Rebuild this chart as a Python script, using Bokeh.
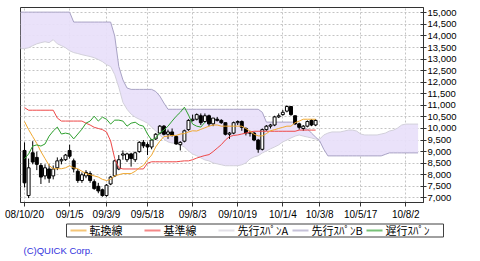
from bokeh.plotting import figure
from bokeh.layouts import column
from bokeh.core.properties import value
from bokeh.models import (Range1d, FixedTicker, Label, ColumnDataSource, NumeralTickFormatter)
from bokeh.embed import file_html
from bokeh.resources import INLINE

# ---- data (weekly bars, index 0 = 2008/10/20) ----
tick_weeks = [0, 11, 20, 30, 41, 52, 63, 72, 82, 93]
tick_labels = ["08/10/20", "09/1/5", "09/3/9", "09/5/18", "09/8/3",
               "09/10/19", "10/1/4", "10/3/8", "10/5/17", "10/8/2"]
y_ticks = [7000, 7500, 8000, 8500, 9000, 9500, 10000, 10500, 11000, 11500,
           12000, 12500, 13000, 13500, 14000, 14500, 15000]
series_names = ["転換線", "基準線", "先行ｽﾊﾟﾝA", "先行ｽﾊﾟﾝB", "遅行ｽﾊﾟﾝ"]

open_ = [9050, 7100, 8950, 8750, 8400, 7950, 8250, 7950, 8300, 8600,
         8650, 9050, 8600, 8150, 7750, 7950, 8050, 7700, 7500, 7350,
         7100, 7600, 7950, 8250, 8850, 8650, 8900, 8650, 9000, 9400,
         9300, 9200, 9550, 9800, 10100, 9750, 9850, 9650, 9300, 9450,
         9950, 10350, 10400, 10550, 10300, 10550, 10200, 10400, 10350, 10250,
         9750, 9800, 10250, 10300, 10000, 9800, 9800, 9500, 9100, 9950,
         10100, 10150, 10500, 10600, 10750, 10950, 10550, 10200, 10000, 10100,
         10350, 10150]
high = [9400, 8700, 9450, 9000, 8500, 8450, 8450, 8400, 8750, 8750,
        8900, 9300, 8700, 8250, 8100, 8200, 8150, 7800, 7650, 7400,
        7600, 7950, 8650, 8850, 9050, 8950, 8950, 9000, 9450, 9500,
        9400, 9550, 9800, 10150, 10150, 9950, 10000, 9700, 9450, 9950,
        10400, 10600, 10650, 10650, 10650, 10600, 10450, 10500, 10400, 10250,
        9850, 10300, 10350, 10350, 10050, 9900, 9850, 9550, 10000, 10150,
        10200, 10550, 10650, 10800, 11000, 10950, 10550, 10250, 10150, 10350,
        10400, 10400]
low = [7450, 6990, 8450, 8200, 7600, 7800, 7650, 7800, 8200, 8450,
       8600, 8700, 8100, 7650, 7650, 7850, 7650, 7350, 7200, 7050,
       7050, 7550, 7900, 8200, 8650, 8550, 8350, 8550, 8950, 9150,
       8850, 9100, 9500, 9750, 9700, 9550, 9650, 9300, 9050, 9400,
       9900, 10300, 10350, 10150, 10250, 10100, 10100, 10300, 10200, 9700,
       9550, 9750, 10150, 9900, 9700, 9650, 9450, 8950, 9050, 9900,
       10000, 10100, 10450, 10550, 10700, 10550, 10150, 9950, 9900, 10050,
       10100, 10100]
close = [7650, 8300, 8550, 8450, 7900, 8300, 7850, 8250, 8600, 8650,
         8850, 8800, 8250, 7750, 8000, 8100, 7750, 7400, 7300, 7100,
         7550, 7900, 8600, 8650, 8900, 8900, 8700, 8950, 9400, 9250,
         9200, 9500, 9750, 10100, 9750, 9850, 9700, 9330, 9400, 9900,
         10350, 10400, 10600, 10250, 10550, 10200, 10450, 10350, 10250, 9750,
         9800, 10250, 10300, 10050, 9800, 9800, 9500, 9100, 9950, 10100,
         10150, 10500, 10550, 10700, 10950, 10600, 10200, 10050, 10100, 10300,
         10150, 10350]

tenkan = [10300, 9950, 9650, 9350, 9000, 8700, 8400, 8260, 8260, 8260,
          8300, 8390, 8300, 8260, 8150, 8050, 8000, 7950, 7900, 7800,
          7750, 7800, 7950, 8000, 8050, 8050, 8050, 8150, 8300, 8400,
          8650, 8850, 9200, 9450, 9650, 9670, 9700, 9700, 9760, 9780,
          9850, 9900, 9890, 9960, 10030, 10100, 10150, 10150, 10100, 10100,
          10100, 10100, 10100, 10100, 10000, 9880, 9750, 9680, 9680, 9780,
          9900, 9950, 10000, 10050, 10100, 10100, 10250, 10320, 10400, 10400,
          10400, 10400]
kijun = [10900, 10790, 10790, 10790, 10790, 10790, 10790, 10790, 10450, 10320,
         10320, 10320, 10320, 10320, 10320, 10230, 10150, 10050, 10000, 9950,
         9850, 9460, 8700, 8300, 8250, 8250, 8250, 8250, 8250, 8250,
         8500, 8560, 8560, 8560, 8560, 8560, 8560, 8560, 8580, 8600,
         8600, 8650, 8720, 8780, 8830, 8870, 9000, 9150, 9300, 9500,
         9650, 9700, 9720, 9760, 9800, 9850, 9880, 9880, 9880, 9880,
         9880, 9880, 9880, 9880, 9880, 9880, 9880, 9930, 9930, 9930,
         9930, 9930]

# leading spans, index -1 .. 96
span_a = [13450, 13450, 13490, 13580, 13660, 13710, 13750, 13710, 13840, 13660,
          13580, 13490, 13360, 13280, 13240, 13190, 13150, 13110, 13060, 12980,
          12890, 12760, 12680, 12330, 11780, 11130, 10830, 10620, 10490, 10400,
          10320, 10230, 10060, 9890, 9720, 9540, 9420, 9370, 9370, 9290,
          9200, 9030, 8900, 8820, 8730, 8640, 8600, 8510, 8470, 8430,
          8390, 8390, 8390, 8390, 8430, 8510, 8680, 8770, 8820, 8940,
          9030, 9120, 9200, 9290, 9420, 9500, 9590, 9670, 9720, 9670,
          9630, 9590, 9540, 9540, 9720, 9800, 9850, 9850, 9850, 9890,
          9930, 9930, 9890, 9760, 9720, 9720, 9720, 9720, 9760, 9800,
          9890, 9930, 10020, 10150, 10190, 10190, 10190, 10190]
span_b = [15030, 15030, 15030, 15030, 15030, 15030, 15030, 15030, 15030, 15030,
          15030, 15030, 15030, 14600, 14600, 14600, 14600, 14600, 14600, 14600,
          14600, 14600, 14600, 14000, 12680, 12100, 11750, 11690, 11690, 11690,
          11690, 11690, 11690, 11600, 11400, 11100, 10830, 10830, 10830, 10830,
          10830, 10830, 10830, 10830, 10830, 10830, 10830, 10830, 10830, 10830,
          10830, 10830, 10830, 10830, 10830, 10830, 10830, 10830, 10830, 10700,
          10275, 10275, 10275, 10275, 10275, 10275, 10275, 10275, 10100, 9980,
          9980, 9800, 9630, 9460, 9100, 8815, 8815, 8815, 8815, 8815,
          8815, 8815, 8815, 8815, 8815, 8815, 8815, 8815, 8815, 8880,
          8944, 8944, 8944, 8944, 8944, 8944, 8944, 8944]

chikou = [8690, 8900, 9240, 9290, 9240, 9330, 9670, 9890, 10060, 9760,
          9800, 9760, 9550, 9760, 9970, 10230, 10320, 10530, 10320, 10490,
          10400, 10190, 10360, 10360, 10320, 10100, 10230, 10270, 10150, 10100,
          9760, 9500, 9590, 9800, 9930, 10100, 10320, 10530, 10700, 10920,
          10580, 10190, 10100, 10060, 10270]

# ---- styles ----
FONT = "Liberation Sans"
JP = "Noto Sans CJK JP"
C_TENKAN = "#f0a830"
C_KIJUN = "#ee4848"
C_SPAN_A = "#d2d0da"
C_SPAN_B = "#a8a2c4"
C_CHIKOU = "#2ea02e"
series_colors = [C_TENKAN, C_KIJUN, C_SPAN_A, C_SPAN_B, C_CHIKOU]

# ---- main chart ----
p = figure(width=480, height=222, output_backend="svg", toolbar_location=None,
           x_range=Range1d(-0.98, 97.32), y_range=Range1d(6800, 15230),
           y_axis_location="right",
           min_border_left=20, min_border_right=57,
           min_border_top=7, min_border_bottom=18)
p.frame_align = False
p.background_fill_color = "white"
p.border_fill_color = "white"
p.outline_line_color = "#333333"
p.outline_line_width = 1

p.xaxis.ticker = FixedTicker(ticks=tick_weeks)
p.xaxis.major_label_overrides = {w: l for w, l in zip(tick_weeks, tick_labels)}
p.xaxis.major_tick_in = 0
p.xaxis.major_tick_out = 4
p.xaxis.minor_tick_line_color = None
p.xaxis.axis_line_color = "#333333"
p.xaxis.major_tick_line_color = "#333333"
p.xaxis.major_label_standoff = 2
p.xaxis.major_label_text_font = FONT
p.xaxis.major_label_text_font_size = "10px"
p.xaxis.major_label_text_color = "#000000"

p.yaxis.ticker = FixedTicker(ticks=y_ticks)
p.yaxis.formatter = NumeralTickFormatter(format="0,0")
p.yaxis.major_tick_in = 3
p.yaxis.major_tick_out = 3
p.yaxis.minor_tick_line_color = None
p.yaxis.axis_line_color = "#333333"
p.yaxis.major_tick_line_color = "#333333"
p.yaxis.major_label_standoff = 1
p.yaxis.major_label_text_font = FONT
p.yaxis.major_label_text_font_size = "9.5px"
p.yaxis.major_label_text_color = "#000000"

for g in (p.xgrid, p.ygrid):
    g.grid_line_color = "#c4c4c4"
    g.grid_line_dash = "2 2"
    g.grid_line_width = 1
p.xgrid.ticker = FixedTicker(ticks=tick_weeks)
p.ygrid.ticker = FixedTicker(ticks=y_ticks)

# cloud
cx = list(range(-1, len(span_a) - 1))
cloud = ColumnDataSource(dict(x=cx, a=span_a, b=span_b))
p.varea(x="x", y1="a", y2="b", source=cloud, fill_color="#e8e0fa", fill_alpha=0.92)
p.line("x", "a", source=cloud, line_color=C_SPAN_A, line_width=1)
p.line("x", "b", source=cloud, line_color=C_SPAN_B, line_width=1)

# candles
n = len(close)
xs = list(range(n))
up = [c >= o for o, c in zip(open_, close)]
cs = ColumnDataSource(dict(x=xs, o=open_, h=high, l=low, c=close))
p.segment(x0="x", y0="h", x1="x", y1="l", source=cs, line_color="black", line_width=1)
ux = [x for x, u in zip(xs, up) if u]
dx = [x for x, u in zip(xs, up) if not u]
src_up = ColumnDataSource(dict(x=ux, t=[close[i] for i in ux], b=[open_[i] for i in ux]))
src_dn = ColumnDataSource(dict(x=dx, t=[open_[i] for i in dx], b=[close[i] for i in dx]))
p.vbar(x="x", top="t", bottom="b", width=0.72, source=src_up,
       fill_color="white", line_color="black", line_width=1)
p.vbar(x="x", top="t", bottom="b", width=0.72, source=src_dn,
       fill_color="black", line_color="black", line_width=1)

# indicator lines
p.line(xs, kijun, line_color=C_KIJUN, line_width=1)
p.line(xs, tenkan, line_color=C_TENKAN, line_width=1)
p.line(list(range(len(chikou))), chikou, line_color=C_CHIKOU, line_width=1)

# ---- legend strip: a small canvas whose data units are pixels ----
QH = 39
q = figure(width=480, height=QH, output_backend="svg", toolbar_location=None,
           x_range=Range1d(0, 480), y_range=Range1d(0, QH),
           min_border_left=0, min_border_right=0, min_border_top=0, min_border_bottom=0)
q.frame_align = False
q.axis.visible = False
q.grid.visible = False
q.outline_line_color = None
q.background_fill_color = "white"
q.border_fill_color = "white"

LEG_LEFT, LEG_RIGHT, LEG_TOP, LEG_BOTTOM = 66, 443, 1, 15   # px from strip top
ITEM_W, SW_W, PAD = 74, 16, 4
mid = QH - (LEG_TOP + LEG_BOTTOM) / 2
q.quad(left=[LEG_LEFT], right=[LEG_RIGHT], top=[QH - LEG_TOP - 0.5], bottom=[QH - LEG_BOTTOM + 0.5],
       fill_color="white", line_color="#404040", line_width=1)
sx0 = [LEG_LEFT + PAD + ITEM_W * k for k in range(len(series_names))]
q.segment(x0=sx0, y0=[mid] * len(sx0), x1=[s + SW_W for s in sx0], y1=[mid] * len(sx0),
          line_color=series_colors, line_width=2, line_alpha=0.65)
q.text(x=[s + SW_W + 3 for s in sx0], y=[mid + 0.5] * len(sx0), text=series_names,
       text_font=value(JP), text_font_size="11px", text_baseline="middle",
       text_color="#000000")

q.add_layout(Label(x=23, y=11, x_units="screen", y_units="screen",
                   text="(C)QUICK Corp.", text_color="#3333dd", text_baseline="alphabetic",
                   text_font=FONT, text_font_size="9.5px"))

layout = column(p, q, spacing=0)
open("out.html", "w").write(file_html(layout, INLINE))
